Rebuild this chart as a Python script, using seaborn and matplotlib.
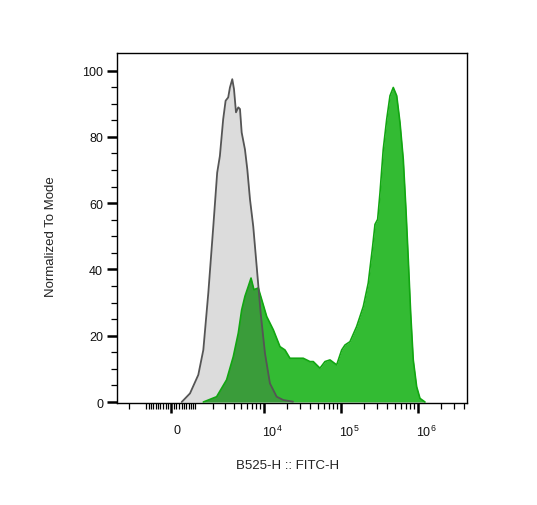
import numpy as np
import matplotlib
matplotlib.use("Agg")
import matplotlib.pyplot as plt
import matplotlib.transforms as mtransforms
import seaborn as sns

# control histogram (unstained), intensity vs % of mode
gray_x = [407, 749, 1139, 1406, 1705, 2039, 2331, 2551, 2845, 3079, 3346, 3536,
          3807, 4018, 4277, 4593, 4840, 5100, 5640, 6060, 6580, 7260, 8060,
          9090, 10350, 12020, 14710, 17930, 23990]
gray_y = [0, 2.6, 8.2, 15.7, 33.0, 53.0, 69.2, 74.2, 85.3, 90.9, 91.9, 94.9,
          97.4, 94.4, 87.4, 88.9, 88.4, 81.3, 76.2, 70.2, 61.1, 53.0, 40.9,
          26.8, 14.7, 5.6, 1.6, 0.6, 0.1]

# stained sample histogram
green_x = [1406, 2286, 3180, 3930, 4593, 5100, 5640, 6250, 6790, 7410, 8460,
           9380, 10900, 13290, 16250, 18870, 21900, 26760, 32600, 39900, 44000,
           53800, 62500, 72600, 88700, 103000, 113700, 132000, 161300, 196500,
           228000, 260000, 279000, 302000, 324000, 357000, 396000, 437000,
           482000, 534000, 589000, 650000, 704000, 755000, 811000, 876000,
           970000, 1071000, 1244000]
green_y = [0, 1.6, 6.7, 13.7, 20.8, 27.8, 31.9, 34.9, 37.4, 33.9, 34.4, 30.9,
           25.8, 21.8, 16.7, 15.7, 13.2, 13.2, 13.2, 12.2, 12.2, 10.2, 12.2,
           12.7, 11.2, 15.7, 17.2, 18.2, 22.8, 28.8, 35.9, 47.0, 53.6, 55.1,
           63.1, 76.2, 85.3, 92.4, 94.9, 92.4, 84.3, 73.2, 58.1, 43.0, 26.8,
           12.7, 4.6, 1.1, 0]

x_major = [0, 1e4, 1e5, 1e6]
x_major_labels = ["0", "$10^{4}$", "$10^{5}$", "$10^{6}$"]
x_minor = ([-2000, -1000] + list(range(-900, 0, 100)) + list(range(100, 1000, 100))
           + [1000 * k for k in range(1, 10)] + [1e4 * k for k in range(2, 10)]
           + [1e5 * k for k in range(2, 10)] + [1e6 * k for k in range(2, 5)])
y_major = [0, 20, 40, 60, 80, 100]

W = 1250.0  # biex width parameter


def fwd(v):
    return np.arcsinh(np.asarray(v) / W) / np.log(10)


def inv(u):
    return W * np.sinh(np.asarray(u) * np.log(10))


sns.set_style("ticks")
plt.rcParams['font.family'] = ['Liberation Sans', 'DejaVu Sans']
plt.rcParams['mathtext.default'] = 'regular'

fig = plt.figure(figsize=(5.37, 5.06), dpi=100)
ax = fig.add_axes([117 / 537, 1 - 404 / 506, 350 / 537, 350 / 506])
ax.set_xscale('function', functions=(fwd, inv))

ax.fill_between(gray_x, gray_y, color='#dcdcdc', lw=0, zorder=1)
green_fill = ax.fill_between(green_x, green_y, color='#33bb33', lw=0, zorder=2)
overlap = ax.fill_between(gray_x, gray_y, color='#3a9c3a', lw=0, zorder=3)
overlap.set_clip_path(green_fill.get_paths()[0], ax.transData)

sns.lineplot(x=green_x, y=green_y, sort=False, estimator=None, color='#12a612',
             lw=1.2, ax=ax, zorder=4)
sns.lineplot(x=gray_x, y=gray_y, sort=False, estimator=None, color='#555555',
             lw=1.3, ax=ax, zorder=5)

ax.set_xlim(-3017, 4.37e6)
ax.set_ylim(-0.3, 105.3)

ax.set_xticks(x_major)
ax.set_xticklabels(x_major_labels)
ax.set_xticks(x_minor, minor=True)
ax.set_yticks(y_major)
ax.set_yticks(np.arange(0, 105, 5), minor=True)

ax.tick_params(which='major', length=7, width=1.8, color='black', labelsize=9,
               pad=3, labelcolor='#111111')
ax.tick_params(which='minor', length=4, width=0.9, color='black')
ax.tick_params(axis='x', which='major', pad=8)

# FlowJo-style: decade labels start at the tick, zero sits a bit right
for i, lab in enumerate(ax.get_xticklabels()):
    if i == 0:
        shift = 4 / 72
    else:
        lab.set_ha('left')
        shift = -1 / 72
    lab.set_transform(lab.get_transform() +
                      mtransforms.ScaledTranslation(shift, 0, fig.dpi_scale_trans))

for s in ax.spines.values():
    s.set_visible(True)
    s.set_color('black')
    s.set_linewidth(1.0)

ax.set_xlabel('B525-H :: FITC-H', fontsize=9.5, color='#222222')
ax.set_ylabel('Normalized To Mode', fontsize=9.5, color='#222222')
ax.xaxis.set_label_coords(0.486, -0.160)
ax.yaxis.set_label_coords(-0.171, 0.477)

fig.savefig('out.png', dpi=100)
